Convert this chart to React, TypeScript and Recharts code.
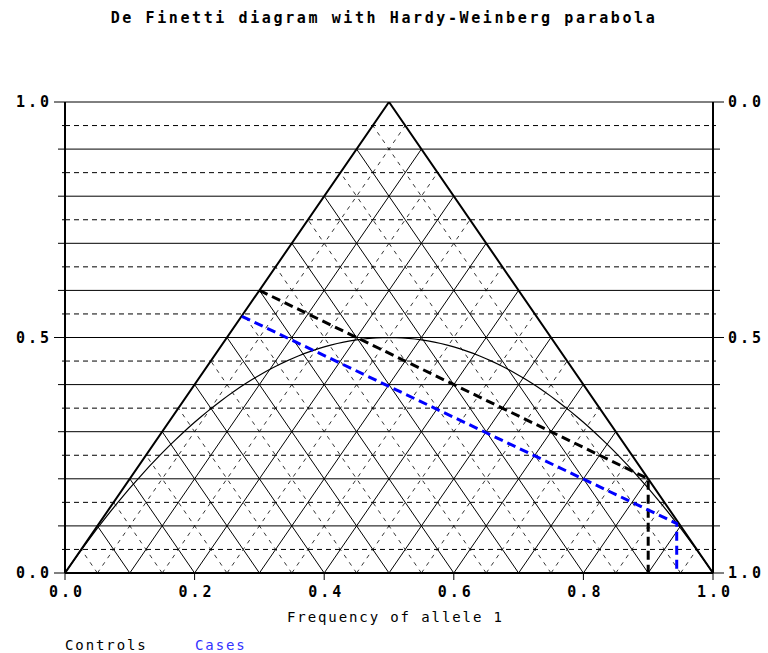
import { LineChart, Line, XAxis, YAxis, ReferenceLine } from 'recharts'

const FONT = '"DejaVu Sans Mono", "Liberation Mono", monospace'

// triangle vertices: BB=1, AB=1, AA=1
const TRIANGLE_X = [0, 0.5, 1]
const TRIANGLE_Y = [0, 1, 0]

// grid levels (every 0.05, solid at multiples of 0.1)
const GRID_LEVELS = [
  0.05, 0.1, 0.15, 0.2, 0.25, 0.3, 0.35, 0.4, 0.45, 0.5,
  0.55, 0.6, 0.65, 0.7, 0.75, 0.8, 0.85, 0.9, 0.95
]
const Y_TICKS = [0, ...GRID_LEVELS, 1]
const Y_LABELS = [0, 0.5, 1]
const X_TICKS = [0, 0.2, 0.4, 0.6, 0.8, 1]

// sample paths
const CONTROLS_X = [0.3, 0.9, 0.9]
const CONTROLS_Y = [0.6, 0.2, 0]
const CASES_X = [0.273, 0.944, 0.944]
const CASES_Y = [0.545, 0.105, 0]

// Hardy-Weinberg equilibrium: heterozygote freq = 2p(1-p)
const HW_P = Array.from({ length: 101 }, (_, i) => i / 100)

const toPoints = (xs: number[], ys: number[]) => xs.map((x, i) => ({ x, y: ys[i] }))

const triangleData = toPoints(TRIANGLE_X, TRIANGLE_Y)
const controlsData = toPoints(CONTROLS_X, CONTROLS_Y)
const casesData = toPoints(CASES_X, CASES_Y)
const hwData = HW_P.map((p) => ({ x: p, y: 2 * p * (1 - p) }))

const isMajor = (v: number) => Math.round(v * 100) % 10 === 0

const tickText = {
  fontFamily: FONT,
  fontWeight: 'bold',
  fontSize: 15,
  letterSpacing: 3,
  fill: '#000'
}

const LeftTick = ({ x, y, payload }: any) => {
  const v = payload.value
  const labelled = Y_LABELS.includes(v)
  const len = labelled ? 11 : isMajor(v) ? 7 : 3
  return (
    <g>
      <line x1={x - len} x2={x} y1={y} y2={y} stroke="#000" />
      {labelled && (
        <text x={x - 13} y={y} dy="0.35em" textAnchor="end" {...tickText}>
          {v.toFixed(1)}
        </text>
      )}
    </g>
  )
}

const RightTick = ({ x, y, payload }: any) => {
  const v = payload.value
  const labelled = Y_LABELS.includes(v)
  const len = labelled ? 11 : isMajor(v) ? 7 : 3
  return (
    <g>
      <line x1={x} x2={x + len} y1={y} y2={y} stroke="#000" />
      {labelled && (
        <text x={x + 15} y={y} dy="0.35em" textAnchor="start" {...tickText}>
          {v.toFixed(1)}
        </text>
      )}
    </g>
  )
}

const BottomTick = ({ x, y, payload }: any) => (
  <g>
    <line x1={x} x2={x} y1={y} y2={y + 7} stroke="#000" />
    <text x={x + 2} y={y + 19} dy="0.35em" textAnchor="middle" {...tickText}>
      {payload.value.toFixed(1)}
    </text>
  </g>
)

const textStyle = {
  position: 'absolute' as const,
  fontFamily: FONT,
  fontSize: 14,
  lineHeight: '16px',
  whiteSpace: 'nowrap' as const
}

export default function App() {
  return (
    <div style={{ position: 'absolute', left: 0, top: 0, width: 768, height: 653, background: '#fff' }}>
      <LineChart width={768} height={653} margin={{ top: 102, right: 0, bottom: 50, left: 0 }}>
        <XAxis
          dataKey="x"
          type="number"
          domain={[0, 1]}
          ticks={X_TICKS}
          interval={0}
          tickSize={0}
          tickMargin={0}
          tick={<BottomTick />}
          height={30}
          axisLine={{ stroke: '#000', strokeWidth: 2 }}
          allowDataOverflow
        />
        <YAxis
          type="number"
          domain={[0, 1]}
          ticks={Y_TICKS}
          interval={0}
          tickSize={0}
          tickMargin={0}
          tick={<LeftTick />}
          width={65}
          axisLine={{ stroke: '#000', strokeWidth: 2 }}
          allowDataOverflow
        />
        <YAxis
          yAxisId="r"
          orientation="right"
          type="number"
          domain={[0, 1]}
          reversed
          ticks={Y_TICKS}
          interval={0}
          tickSize={0}
          tickMargin={0}
          tick={<RightTick />}
          width={55}
          axisLine={{ stroke: '#000', strokeWidth: 2 }}
          allowDataOverflow
        />

        {[...GRID_LEVELS, 1].map((v) => (
          <ReferenceLine
            key={`h${v}`}
            y={v}
            stroke="#000"
            strokeWidth={1}
            strokeDasharray={isMajor(v) ? undefined : '5 4'}
          />
        ))}
        {GRID_LEVELS.map((c) => (
          <ReferenceLine
            key={`a${c}`}
            segment={[{ x: c, y: 0 }, { x: (1 + c) / 2, y: 1 - c }]}
            stroke="#000"
            strokeWidth={isMajor(c) ? 1 : 0.8}
            strokeDasharray={isMajor(c) ? undefined : '4 5'}
          />
        ))}
        {GRID_LEVELS.map((c) => (
          <ReferenceLine
            key={`b${c}`}
            segment={[{ x: c, y: 0 }, { x: c / 2, y: c }]}
            stroke="#000"
            strokeWidth={isMajor(c) ? 1 : 0.8}
            strokeDasharray={isMajor(c) ? undefined : '4 5'}
          />
        ))}

        <Line data={triangleData} dataKey="y" type="linear" stroke="#000" strokeWidth={2} dot={false} isAnimationActive={false} />
        <Line data={hwData} dataKey="y" type="linear" stroke="#000" strokeWidth={1.2} dot={false} isAnimationActive={false} />
        <Line data={controlsData} dataKey="y" type="linear" stroke="#000" strokeWidth={3} strokeDasharray="9 5" dot={false} isAnimationActive={false} />
        <Line data={casesData} dataKey="y" type="linear" stroke="#0000ff" strokeWidth={3} strokeDasharray="9 5" dot={false} isAnimationActive={false} />
      </LineChart>

      <div style={{ ...textStyle, left: 0, width: 768, top: 10, textAlign: 'center', fontWeight: 'bold', fontSize: 15, letterSpacing: 2.6 }}>
        De Finetti diagram with Hardy-Weinberg parabola
      </div>
      <div style={{ ...textStyle, left: 287, top: 609, letterSpacing: 1.9 }}>Frequency of allele 1</div>
      <div style={{ ...textStyle, left: 65, top: 637, letterSpacing: 1.9 }}>Controls</div>
      <div style={{ ...textStyle, left: 195, top: 637, letterSpacing: 1.9, color: '#3333ff' }}>Cases</div>
    </div>
  )
}
